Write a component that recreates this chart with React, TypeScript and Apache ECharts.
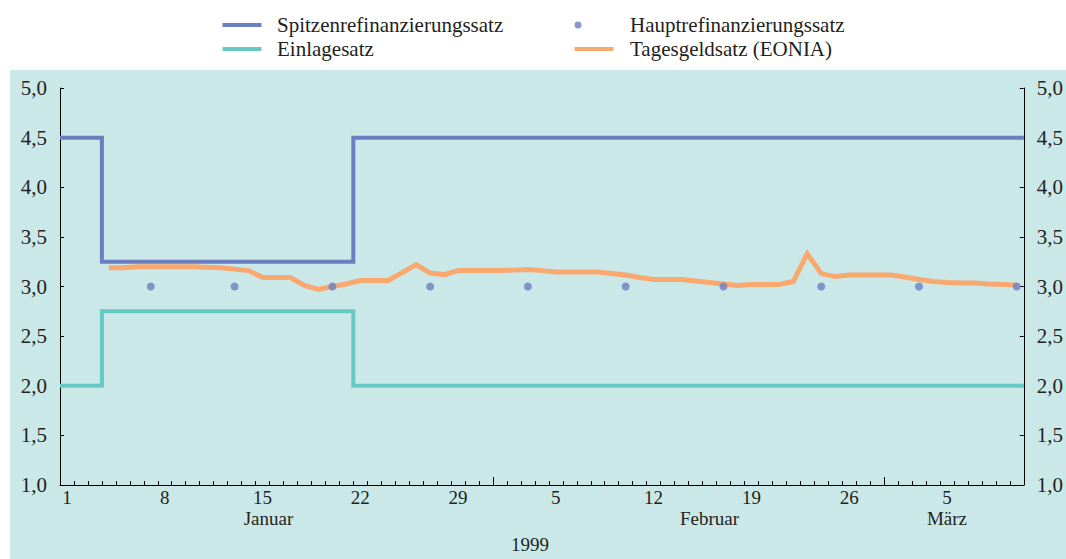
import React, { useEffect, useRef } from "react";
import * as echarts from "echarts";

// ---- data ----
const monthNames = ["Januar", "Februar", "März"];
const monthDays = [31, 28, 10];
const yearLabel = "1999";
const dayLabelStep = 7;
const monthLabelIndex = [14, 46, 63];

const yMin = 1;
const yMax = 5;
const yInterval = 0.5;

const nameSpitzen = "Spitzenrefinanzierungssatz";
const nameHaupt = "Hauptrefinanzierungssatz";
const nameEinlage = "Einlagesatz";
const nameEonia = "Tagesgeldsatz (EONIA)";

// corridor: day index (0 = 1 Jan) at which a new rate starts
const rateChangeDays = [3, 21];
const spitzenRates = [4.5, 3.25, 4.5];
const einlageRates = [2.0, 2.75, 2.0];

// main refinancing operations (day index, rate)
const mroDays = [6, 12, 19, 26, 33, 40, 47, 54, 61, 68];
const mroRates = [3.0, 3.0, 3.0, 3.0, 3.0, 3.0, 3.0, 3.0, 3.0, 3.0];

// EONIA, daily from 1 Jan (index 0)
const eonia = [
  null, null, null,
  3.19, 3.19, 3.2, 3.2, 3.2, 3.2, 3.2, 3.195, 3.19, 3.175, 3.16, // 4-14 Jan
  3.09, 3.09, 3.09, 3.01, 2.97, 3.0, 3.025, 3.06, 3.06, 3.06, // 15-24 Jan
  3.14, 3.22, 3.135, 3.12, 3.16, 3.16, 3.16, // 25-31 Jan
  3.16, 3.165, 3.17, 3.16, 3.145, 3.145, 3.145, // 1-7 Feb
  3.145, 3.13, 3.115, 3.09, 3.07, 3.07, 3.07, // 8-14 Feb
  3.055, 3.04, 3.025, 3.01, 3.02, 3.02, 3.02, // 15-21 Feb
  3.05, 3.33, 3.13, 3.1, 3.115, 3.115, 3.115, // 22-28 Feb
  3.115, 3.095, 3.07, 3.05, 3.04, 3.035, 3.035, 3.025, 3.02, 3.015, // 1-10 Mar
];

// ---- derived ----
const dayCats: string[] = [];
const dayMonth: number[] = [];
monthDays.forEach((n, m) => {
  for (let d = 1; d <= n; d++) {
    dayCats.push(String(d));
    dayMonth.push(m);
  }
});
const monthStarts: number[] = [];
{
  let acc = 0;
  monthDays.forEach((n, i) => {
    if (i > 0) monthStarts.push(acc);
    acc += n;
  });
}
const nDays = dayCats.length;

function stepData(rates: number[]) {
  const pts: number[][] = [];
  rates.forEach((r, i) => {
    const start = i === 0 ? -0.5 : rateChangeDays[i - 1] - 0.5;
    const end = i === rates.length - 1 ? nDays - 0.5 : rateChangeDays[i] - 0.5;
    pts.push([start, r], [end, r]);
  });
  return pts;
}

const FONT = "'Liberation Serif', 'Times New Roman', 'DejaVu Serif', serif";
const FS = 21;
const FSX = 19;
const TXT = "#231f20";
const C_BLUE = "#6a7ec0";
const C_TEAL = "#66c9c3";
const C_ORANGE = "#f9a86f";
const C_DOT = "#6a7ec2";
const C_PANEL = "#cbe8e8";

const fmtY = (v: number) => v.toFixed(1).replace(".", ",");

const lineIcon = "path://M0,0 M49.5,8 M0,2 L39,2 L39,6 L0,6 Z";
const lineIcon2 = "path://M0,0 M50.5,8 M0,2 L39,2 L39,6 L0,6 Z";
const dotIcon = "path://M0,0 M50.5,8 M0,4 A3.5,3.5 0 1,1 7,4 A3.5,3.5 0 1,1 0,4 Z";

export default function App() {
  const ref = useRef<HTMLDivElement>(null);
  useEffect(() => {
    document.body.style.margin = "0";
    if (!ref.current) return;
    const chart = echarts.init(ref.current, undefined, { renderer: "svg" });
    const labelStyle = { fontFamily: FONT, fontSize: FS, color: TXT, lineHeight: FS };
    const xLabelStyle = { fontFamily: FONT, fontSize: FSX, color: TXT, lineHeight: FSX };
    const yAxisBase = {
      type: "value",
      min: yMin,
      max: yMax,
      interval: yInterval,
      axisLine: { show: true, onZero: false, lineStyle: { color: "#000", width: 1 } },
      axisTick: { show: true, inside: true, length: 4, lineStyle: { color: "#000" } },
      splitLine: { show: false },
      axisLabel: { ...labelStyle, margin: 13, formatter: fmtY },
    };
    chart.setOption({
      animation: false,
      graphic: [
        {
          type: "rect",
          left: 10,
          top: 70,
          z: -10,
          silent: true,
          shape: { width: 1056, height: 489 },
          style: { fill: C_PANEL },
        },
      ],
      legend: [
        {
          orient: "vertical",
          left: 217.5,
          top: 9.5,
          itemWidth: 49.5,
          itemHeight: 8,
          itemGap: 3,
          itemStyle: { borderWidth: 0 },
          textStyle: { ...labelStyle },
          data: [
            { name: nameSpitzen, icon: lineIcon },
            { name: nameEinlage, icon: lineIcon },
          ],
        },
        {
          orient: "vertical",
          left: 569.5,
          top: 9.5,
          itemWidth: 50.5,
          itemHeight: 8,
          itemGap: 3,
          itemStyle: { borderWidth: 0 },
          textStyle: { ...labelStyle },
          data: [
            { name: nameHaupt, icon: dotIcon },
            { name: nameEonia, icon: lineIcon2 },
          ],
        },
      ],
      grid: { left: 60, right: 40, top: 88, bottom: 70 },
      xAxis: [
        {
          type: "category",
          data: dayCats,
          boundaryGap: true,
          position: "bottom",
          axisLine: { show: true, onZero: false, lineStyle: { color: "#000", width: 1 } },
          axisTick: { show: true, inside: true, length: 4, interval: 0, lineStyle: { color: "#000" } },
          axisLabel: {
            ...xLabelStyle,
            margin: 2.5,
            interval: (i: number) => i % dayLabelStep === 0,
          },
          splitLine: { show: false },
        },
        {
          type: "category",
          data: dayCats,
          boundaryGap: true,
          position: "bottom",
          axisLine: { show: false, onZero: false },
          axisTick: { show: false },
          splitLine: { show: false },
          axisLabel: {
            ...xLabelStyle,
            margin: 24,
            interval: (i: number) => monthLabelIndex.includes(i),
            formatter: (_v: string, i: number) =>
              i === monthLabelIndex[0]
                ? "{j|" + monthNames[dayMonth[i]] + "}"
                : monthNames[dayMonth[i]],
            rich: { j: { ...xLabelStyle, padding: [0, 0, 0, 12] } },
          },
          name: yearLabel,
          nameLocation: "middle",
          nameGap: 50,
          nameTextStyle: { ...xLabelStyle, padding: [0, 24, 0, 0] },
        },
        {
          type: "category",
          data: dayCats,
          boundaryGap: true,
          position: "bottom",
          axisLine: { show: false, onZero: false },
          axisLabel: { show: false },
          splitLine: { show: false },
          axisTick: {
            show: true,
            inside: true,
            length: 8,
            interval: (i: number) => monthStarts.includes(i),
            lineStyle: { color: "#000" },
          },
        },
        { type: "value", min: -0.5, max: nDays - 0.5, show: false, axisLine: { onZero: false } },
      ],
      yAxis: [
        { ...yAxisBase, position: "left" },
        { ...yAxisBase, position: "right" },
      ],
      series: [
        {
          name: nameSpitzen,
          type: "line",
          xAxisIndex: 3,
          yAxisIndex: 0,
          data: stepData(spitzenRates),
          symbol: "none",
          color: C_BLUE,
          lineStyle: { color: C_BLUE, width: 4, join: "miter", cap: "butt" },
          z: 2,
        },
        {
          name: nameEinlage,
          type: "line",
          xAxisIndex: 3,
          yAxisIndex: 0,
          data: stepData(einlageRates),
          symbol: "none",
          color: C_TEAL,
          lineStyle: { color: C_TEAL, width: 4, join: "miter", cap: "butt" },
          z: 2,
        },
        {
          name: nameEonia,
          type: "line",
          xAxisIndex: 3,
          yAxisIndex: 0,
          data: eonia
            .map((v, i) => (v == null ? null : [i, v]))
            .filter((p) => p !== null),
          symbol: "none",
          color: C_ORANGE,
          lineStyle: { color: C_ORANGE, width: 5, join: "miter" },
          z: 3,
        },
        {
          name: nameHaupt,
          type: "scatter",
          xAxisIndex: 3,
          yAxisIndex: 0,
          data: mroDays.map((d, i) => [d, mroRates[i]]),
          symbol: "circle",
          symbolSize: 8,
          color: C_DOT,
          itemStyle: { color: C_DOT },
          z: 5,
        },
      ],
    });
    return () => chart.dispose();
  }, []);
  return <div ref={ref} style={{ width: 1066, height: 559 }} />;
}
